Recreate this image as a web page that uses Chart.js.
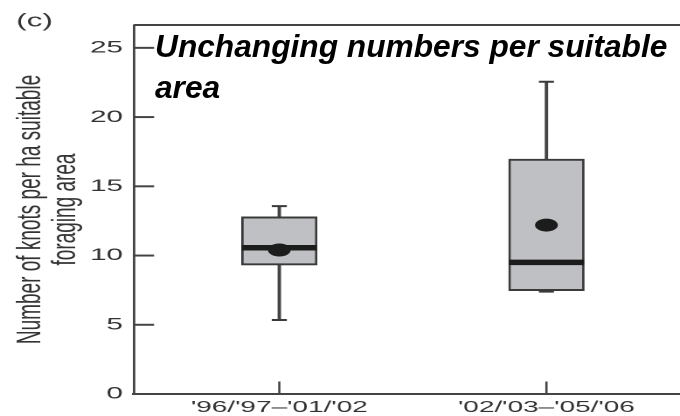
<!DOCTYPE html>
<html>
<head>
<meta charset="utf-8">
<script src="https://cdn.jsdelivr.net/npm/chart.js@4.4.0/dist/chart.umd.min.js"></script>
<style>
  html, body { margin: 0; padding: 0; background: #fff; width: 680px; height: 416px; overflow: hidden; }
  /* the figure is drawn narrow and widened horizontally, like the printed panel */
  #plot { position: absolute; left: 0; top: 0; width: 389px; height: 416px;
          transform: scaleX(1.748); transform-origin: 0 0; }
  #headline { position: absolute; left: 155px; top: 26px; color: #000; white-space: nowrap;
              font: italic bold 31.7px "Liberation Sans", Arial, sans-serif; line-height: 41px; }
</style>
</head>
<body>
<div id="plot"><canvas id="chart" width="389" height="416"></canvas></div>
<div id="headline">Unchanging numbers per suitable<br>area</div>
<script>
// Knots per ha of suitable foraging area, two periods
const categories   = ["'96/'97–'01/'02", "'02/'03–'05/'06"];
const whiskerLow   = [5.34, 7.39];
const quartileLow  = [9.31, 7.46];
const medians      = [10.56, 9.51];
const means        = [10.4, 12.2];
const quartileHigh = [12.8, 16.97];
const whiskerHigh  = [13.57, 22.55];
const yTicks       = [0, 5, 10, 15, 20, 25];

const INK = '#444';
const FONT = '"Liberation Sans", Arial, sans-serif';
const at = (arr) => arr.map((v, i) => ({ x: i + 1, y: v }));

// frame top edge, inward tick marks and the panel letter
const frameInk = {
  id: 'frameInk',
  afterDraw(chart) {
    const { ctx, chartArea: a, scales: { x, y } } = chart;
    ctx.save();
    ctx.strokeStyle = INK;
    ctx.lineWidth = 2;
    ctx.beginPath();
    ctx.moveTo(a.left, a.top);
    ctx.lineTo(a.right, a.top);
    ctx.stroke();
    y.ticks.forEach(t => {
      const py = y.getPixelForValue(t.value);
      ctx.beginPath();
      ctx.moveTo(a.left, py);
      ctx.lineTo(a.left + 11.5, py);
      ctx.stroke();
    });
    ctx.lineWidth = 1.3;
    x.ticks.forEach(t => {
      const px = x.getPixelForValue(t.value);
      ctx.beginPath();
      ctx.moveTo(px, a.bottom);
      ctx.lineTo(px, a.bottom - 12.5);
      ctx.stroke();
    });
    ctx.fillStyle = '#333';
    ctx.font = '18px ' + FONT;
    ctx.textBaseline = 'middle';
    ctx.textAlign = 'left';
    ctx.fillText('(c)', 9.3, 21.5);
    ctx.restore();
  }
};

new Chart(document.getElementById('chart'), {
  type: 'bar',
  data: {
    datasets: [
      { // whiskers
        type: 'bar', order: 5, grouped: false,
        data: categories.map((c, i) => ({ x: i + 1, y: [whiskerLow[i], whiskerHigh[i]] })),
        barThickness: 1.3, backgroundColor: INK, borderWidth: 0
      },
      { // boxes, lower to upper quartile
        type: 'bar', order: 4, grouped: false,
        data: categories.map((c, i) => ({ x: i + 1, y: [quartileLow[i], quartileHigh[i]] })),
        barThickness: 43, backgroundColor: '#bfc0c3', borderColor: '#3a3a3a',
        borderWidth: { top: 2, bottom: 2, left: 1.4, right: 1.4 }, borderSkipped: false
      },
      { // whisker caps
        type: 'scatter', order: 3,
        data: at(whiskerLow).concat(at(whiskerHigh)),
        pointStyle: 'line', pointRadius: 4.3, borderWidth: 2, borderColor: '#3a3a3a'
      },
      { // medians
        type: 'scatter', order: 2,
        data: at(medians),
        pointStyle: 'line', pointRadius: 21.5, borderWidth: 5.5, borderColor: '#1c1c1c'
      },
      { // means
        type: 'scatter', order: 1,
        data: at(means),
        pointStyle: 'circle', pointRadius: 6.5, borderWidth: 0, backgroundColor: '#1c1c1c'
      }
    ]
  },
  options: {
    responsive: false,
    devicePixelRatio: 2,
    animation: false,
    events: [],
    layout: { autoPadding: false, padding: { top: 25, left: 0, right: 0, bottom: 0 } },
    plugins: { legend: { display: false }, tooltip: { enabled: false } },
    scales: {
      x: {
        type: 'linear', min: 0.456, max: 2.5, offset: false,
        afterBuildTicks: s => { s.ticks = categories.map((c, i) => ({ value: i + 1 })); },
        afterFit: s => { s.height = 22; s.paddingLeft = 0; s.paddingRight = 0; },
        grid: { display: false, drawTicks: false },
        border: { display: true, color: INK, width: 2 },
        ticks: {
          padding: 4, color: '#333', maxRotation: 0, autoSkip: false,
          font: { family: FONT, size: 16 },
          callback: v => categories[Math.round(v) - 1]
        }
      },
      y: {
        min: 0, max: 26.65,
        afterBuildTicks: s => { s.ticks = yTicks.map(v => ({ value: v })); },
        afterFit: s => { s.width = 76.66; s.paddingTop = 0; s.paddingBottom = 0; },
        grid: { display: false, drawTicks: false },
        border: { display: true, color: INK, width: 1.4 },
        ticks: { padding: 6.3, color: '#333', font: { family: FONT, size: 17 } },
        title: {
          display: true,
          text: ['Number of knots per ha suitable', 'foraging area'],
          color: '#333',
          font: { family: FONT, size: 19, lineHeight: 1.05 },
          padding: { top: 7.6, bottom: 0 }
        }
      }
    }
  },
  plugins: [frameInk]
});
</script>
</body>
</html>
